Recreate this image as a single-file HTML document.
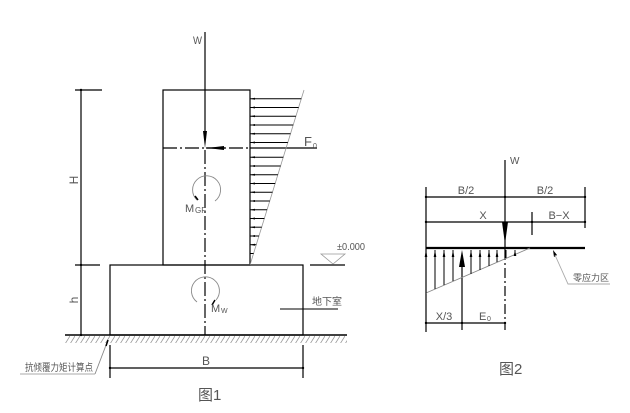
<!DOCTYPE html>
<html><head><meta charset="utf-8"><style>
html,body{margin:0;padding:0;background:#fff;}
svg{display:block;}
text{font-family:"Liberation Sans","Noto Sans CJK SC",sans-serif;fill:#555;}
</style></head><body>
<svg width="630" height="413" viewBox="0 0 630 413" xmlns="http://www.w3.org/2000/svg">
<defs>
<pattern id="h" width="5" height="8" patternUnits="userSpaceOnUse"><line x1="5" y1="0" x2="0" y2="8" stroke="#999" stroke-width="0.8"/></pattern>
</defs>
<g stroke="#000" stroke-width="1.2" fill="none">
<rect x="163" y="90" width="87" height="175"/>
<rect x="110" y="265" width="193" height="70"/>
<line x1="65" y1="335" x2="347" y2="335" stroke-width="1.6"/>
<line x1="205" y1="32" x2="205" y2="140"/>
<line x1="205" y1="150" x2="205" y2="335" stroke-dasharray="14,3,2,3"/>
<line x1="163" y1="148" x2="250" y2="148" stroke-dasharray="14,3,2,3"/>
<line x1="250" y1="148" x2="317" y2="148"/>
<line x1="206" y1="148" x2="225" y2="148"/>
<line x1="304" y1="90" x2="250" y2="265" stroke="#999" stroke-width="0.8"/>
<line x1="81" y1="90" x2="81" y2="335"/>
<line x1="75" y1="90" x2="102" y2="90"/>
<line x1="75" y1="265" x2="100" y2="265"/>
<line x1="110" y1="345" x2="110" y2="378"/>
<line x1="303" y1="345" x2="303" y2="378"/>
<line x1="110" y1="368" x2="303" y2="368"/>
<line x1="310" y1="265" x2="345" y2="265"/>
<line x1="280" y1="309" x2="338" y2="309" stroke-width="1"/>
<line x1="505" y1="160" x2="505" y2="250"/>
<line x1="505" y1="250" x2="505" y2="330" stroke-dasharray="10,3,2,3"/>
<line x1="426" y1="187" x2="426" y2="332"/>
<line x1="585" y1="187" x2="585" y2="228"/>
<line x1="532" y1="212" x2="532" y2="235"/>
<line x1="426" y1="197" x2="585" y2="197"/>
<line x1="426" y1="222" x2="585" y2="222"/>
<line x1="426" y1="248" x2="585" y2="248" stroke-width="2.2"/>
<line x1="426" y1="323" x2="505" y2="323"/>
<line x1="462" y1="255" x2="462" y2="330"/>
</g>
<rect x="65" y="336" width="282" height="7" fill="url(#h)"/>
<polygon points="321,254 345,254 333,264" fill="none" stroke="#999" stroke-width="0.8"/>
<g stroke="#000" stroke-width="1">
<line x1="250" y1="98.7" x2="301.3" y2="98.7"/><line x1="250" y1="107.5" x2="298.6" y2="107.5"/><line x1="250" y1="116.2" x2="295.9" y2="116.2"/><line x1="250" y1="125" x2="293.2" y2="125"/><line x1="250" y1="133.7" x2="290.5" y2="133.7"/><line x1="250" y1="142.5" x2="287.8" y2="142.5"/><line x1="250" y1="157.2" x2="283.3" y2="157.2"/><line x1="250" y1="166" x2="280.6" y2="166"/><line x1="250" y1="174.7" x2="277.9" y2="174.7"/><line x1="250" y1="183.5" x2="275.2" y2="183.5"/><line x1="250" y1="192.2" x2="272.5" y2="192.2"/><line x1="250" y1="201" x2="269.8" y2="201"/><line x1="250" y1="209.7" x2="267.1" y2="209.7"/><line x1="250" y1="218.5" x2="264.4" y2="218.5"/><line x1="250" y1="227.2" x2="261.7" y2="227.2"/><line x1="250" y1="236" x2="259" y2="236"/><line x1="250" y1="244.7" x2="256.3" y2="244.7"/><line x1="250" y1="253.5" x2="253.6" y2="253.5"/>
</g>
<g fill="#000">
<path d="M250 98.7l5-1v2z"/><path d="M250 107.5l5-1v2z"/><path d="M250 116.2l5-1v2z"/><path d="M250 125l5-1v2z"/><path d="M250 133.7l5-1v2z"/><path d="M250 142.5l5-1v2z"/><path d="M250 157.2l5-1v2z"/><path d="M250 166l5-1v2z"/><path d="M250 174.7l5-1v2z"/><path d="M250 183.5l5-1v2z"/><path d="M250 192.2l5-1v2z"/><path d="M250 201l5-1v2z"/><path d="M250 209.7l5-1v2z"/><path d="M250 218.5l5-1v2z"/><path d="M250 227.2l5-1v2z"/><path d="M250 236l5-1v2z"/><path d="M250 244.7l5-1v2z"/>
<path d="M203 131h4l-2 17z"/>
<path d="M207 148l17-2v4z"/>
<path d="M502 222h6l-3 22z"/>
<circle cx="81" cy="90" r="1.2"/><circle cx="81" cy="265" r="1.2"/><circle cx="81" cy="335" r="1.2"/>
<circle cx="110" cy="368" r="1.2"/><circle cx="303" cy="368" r="1.2"/>
<circle cx="426" cy="197" r="1.2"/><circle cx="505" cy="197" r="1.2"/><circle cx="585" cy="197" r="1.2"/>
<circle cx="426" cy="222" r="1.2"/><circle cx="532" cy="222" r="1.2"/><circle cx="585" cy="222" r="1.2"/>
<circle cx="426" cy="323" r="1.2"/><circle cx="462" cy="323" r="1.2"/><circle cx="505" cy="323" r="1.2"/>
<path d="M553 250l1 7 3-2z"/>
</g>
<g fill="none" stroke="#888" stroke-width="0.9">
<path d="M197 200 A14 14 0 1 1 215 201"/>
<path d="M197 302 A14 14 0 1 1 216 300"/>
<polyline points="95,374 20,374" stroke="#aaa"/>
<line x1="95" y1="374" x2="108" y2="340"/>
<polyline points="555,255 568,284 610,284" stroke="#aaa"/>
<line x1="426" y1="293" x2="530" y2="248"/>
</g>
<g fill="#000" stroke="#000" stroke-width="1.5">
<line x1="198" y1="200" x2="195" y2="196"/>
<line x1="215" y1="300" x2="212" y2="305"/>
<line x1="108" y1="340" x2="106" y2="346"/>
</g>
<g stroke="#000" stroke-width="1">
<line x1="426" y1="250" x2="426" y2="293"/><line x1="435" y1="250" x2="435" y2="289"/><line x1="444" y1="250" x2="444" y2="285"/><line x1="453" y1="250" x2="453" y2="281"/><line x1="471" y1="250" x2="471" y2="274"/><line x1="480" y1="250" x2="480" y2="270"/><line x1="489" y1="250" x2="489" y2="266"/><line x1="497" y1="250" x2="497" y2="262"/><line x1="506" y1="250" x2="506" y2="258"/><line x1="515" y1="250" x2="515" y2="255"/>
</g>
<g fill="#000">
<path d="M426 250l-1.3 7h2.6z"/><path d="M435 250l-1.3 7h2.6z"/><path d="M444 250l-1.3 7h2.6z"/><path d="M453 250l-1.3 7h2.6z"/><path d="M471 250l-1.3 7h2.6z"/><path d="M480 250l-1.3 7h2.6z"/><path d="M489 250l-1.3 7h2.6z"/><path d="M497 250l-1.3 7h2.6z"/><path d="M515 250l-1.3 6h2.6z"/>
<path d="M462 250l-3 17h6z"/>
</g>
<text x="193" y="44" font-size="11" textLength="9" lengthAdjust="spacingAndGlyphs">W</text>
<text x="304" y="146" font-size="13" fill="#000">F</text><text x="313" y="148" font-size="7">0</text>
<text x="185" y="212" font-size="11">M</text><text x="195" y="213" font-size="8" fill="#000">GF</text>
<text x="211" y="312" font-size="11">M</text><text x="221" y="313" font-size="7">W</text>
<text x="337" y="250" font-size="10" fill="#444" textLength="28" lengthAdjust="spacingAndGlyphs">±0.000</text>
<text x="312" y="305" font-size="10" fill="#444">地下室</text>
<text x="25" y="371" font-size="10" fill="#444" textLength="68" lengthAdjust="spacingAndGlyphs">抗倾覆力矩计算点</text>
<text x="202" y="365" font-size="12">B</text>
<text x="198" y="400" font-size="15" fill="#777">图1</text>
<text x="78" y="180" font-size="12" transform="rotate(-90 78 180)" text-anchor="middle">H</text>
<text x="78" y="300" font-size="12" transform="rotate(-90 78 300)" text-anchor="middle">h</text>
<text x="510" y="164" font-size="10">W</text>
<text x="466" y="194" font-size="11" text-anchor="middle">B/2</text>
<text x="545" y="194" font-size="11" text-anchor="middle">B/2</text>
<text x="483" y="219" font-size="11" text-anchor="middle">X</text>
<text x="559" y="219" font-size="11" text-anchor="middle">B−X</text>
<text x="444" y="320" font-size="11" text-anchor="middle">X/3</text>
<text x="479" y="320" font-size="11">E</text><text x="487" y="321" font-size="7">0</text>
<text x="573" y="281" font-size="9" fill="#444">零应力区</text>
<text x="499" y="374" font-size="15" fill="#777">图2</text>
</svg>
</body></html>
